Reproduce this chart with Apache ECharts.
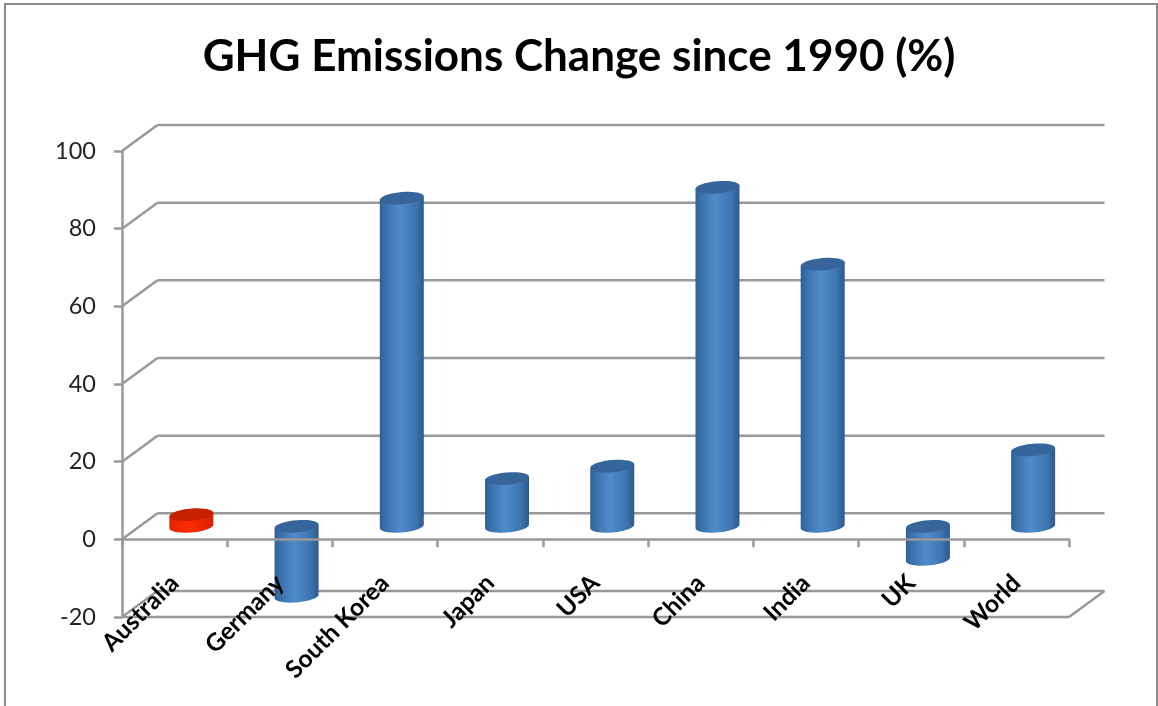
<!DOCTYPE html>
<html>
<head>
<meta charset="utf-8">
<style>html,body{margin:0;padding:0;background:#fff;}#c{width:1158px;height:706px;}</style>
<script src="https://cdn.jsdelivr.net/npm/echarts@6/dist/echarts.min.js"></script>
</head>
<body>
<div id="c"></div>
<script>
var titleText = 'GHG Emissions Change since 1990 (%)';
var categories = ['Australia','Germany','South Korea','Japan','USA','China','India','UK','World'];
var values = [3, -18, 84.5, 12.3, 15.5, 87.3, 67.5, -8.5, 19.7];
var highlighted = ['Australia'];
var yTicks = [-20, 0, 20, 40, 60, 80, 100];

var DX = 35.5, DY = -26, LINE = '#999999', FONT = 'Lato, "Open Sans", sans-serif';
var chart = echarts.init(document.getElementById('c'));

function ring(cx, cy, rx, ry, skew, from, to) {
  var pts = [], n = 40;
  for (var i = 0; i <= n; i++) {
    var t = from + (to - from) * i / n;
    pts.push([cx + rx * Math.cos(t), cy + ry * Math.sin(t) - skew * Math.cos(t)]);
  }
  return pts;
}
function grad(stops) {
  return {type:'linear', x:0, y:0, x2:1, y2:0, colorStops:stops};
}
var blueSide = grad([{offset:0,color:'#2f6094'},{offset:0.12,color:'#3a70ab'},{offset:0.45,color:'#4f8bcb'},{offset:0.8,color:'#3f76b2'},{offset:1,color:'#2c5a8c'}]);
var redSide = grad([{offset:0,color:'#e02400'},{offset:0.4,color:'#ff2c00'},{offset:1,color:'#d82200'}]);

var wallSeries = {
  type:'custom', coordinateSystem:'cartesian2d', z:1, silent:true, clip:false,
  data: yTicks.map(function(t){ return [0, t]; }),
  encode:{x:0, y:1},
  renderItem:function(params, api){
    var v = api.value(1);
    var a = api.coord([0, v]);
    var size = api.size([1, 0])[0];
    var x0 = a[0] - size / 2, x1 = x0 + size * categories.length, y = a[1];
    var style = {stroke:LINE, lineWidth:2.5, fill:null};
    var kids = [
      {type:'line', shape:{x1:x0, y1:y, x2:x0 + DX, y2:y + DY}, style:style},
      {type:'line', shape:{x1:x0 + DX, y1:y + DY, x2:x1 + DX, y2:y + DY}, style:style}
    ];
    if (v === yTicks[0]) {
      kids.push({type:'line', shape:{x1:x0, y1:y, x2:x1, y2:y}, style:style});
      kids.push({type:'line', shape:{x1:x1, y1:y, x2:x1 + DX, y2:y + DY}, style:style});
    }
    return {type:'group', children:kids};
  }
};

var cylSeries = {
  type:'custom', coordinateSystem:'cartesian2d', z:3, silent:true, clip:false,
  data: categories.map(function(c, i){ return [i, values[i]]; }),
  encode:{x:0, y:1},
  renderItem:function(params, api){
    var i = api.value(0), v = api.value(1);
    var hi = Math.max(v, 0), lo = Math.min(v, 0);
    var size = api.size([1, 0])[0];
    var rx = size * 0.209, ry = rx * 0.28, skew = rx * 0.08;
    var top = api.coord([i, hi]), bot = api.coord([i, lo]);
    var cx = top[0] + 16.75, yt = top[1] + DY / 2, yb = bot[1] + DY / 2;
    var isHi = highlighted.indexOf(categories[i]) >= 0;
    var body = ring(cx, yb, rx, ry, skew, 0, Math.PI);
    body = [[cx + rx, yt - skew]].concat(body).concat([[cx - rx, yt + skew]]);
    return {type:'group', children:[
      {type:'polygon', shape:{points:body}, style:{fill:isHi ? redSide : blueSide}},
      {type:'polygon', shape:{points:ring(cx, yt, rx, ry, skew, 0, Math.PI * 2)}, style:{fill:isHi ? '#c62000' : '#35659a'}}
    ]};
  }
};

chart.setOption({
  animation:false,
  backgroundColor:'#fff',
  title:{text:titleText, left:'center', top:35, padding:0,
    textStyle:{fontFamily:FONT, fontWeight:'bold', fontSize:44, color:'#000'}},
  graphic:[{type:'rect', silent:true, z:-1,
    shape:{x:5, y:4, width:1152, height:720},
    style:{fill:null, stroke:'#8c8c8c', lineWidth:2}}],
  grid:{left:122, right:89, top:151, bottom:89, outerBoundsMode:'none'},
  xAxis:{type:'category', data:categories, z:6,
    axisLine:{onZero:true, lineStyle:{color:LINE, width:2.5}},
    axisTick:{show:true, length:8, inside:false, alignWithLabel:false, lineStyle:{color:LINE, width:2.5}},
    axisLabel:{interval:0, rotate:45, margin:-38, fontFamily:FONT, fontWeight:'bold', fontSize:24.5, color:'#000'},
    splitLine:{show:false}},
  yAxis:{type:'value', min:-20, max:100, interval:20,
    axisLine:{show:true, lineStyle:{color:LINE, width:2.5}},
    axisTick:{show:true, length:8, lineStyle:{color:LINE, width:2.5}},
    axisLabel:{margin:26, fontFamily:FONT, fontSize:23.5, color:'#222'},
    splitLine:{show:false}},
  series:[wallSeries, cylSeries]
});
</script>
</body>
</html>
